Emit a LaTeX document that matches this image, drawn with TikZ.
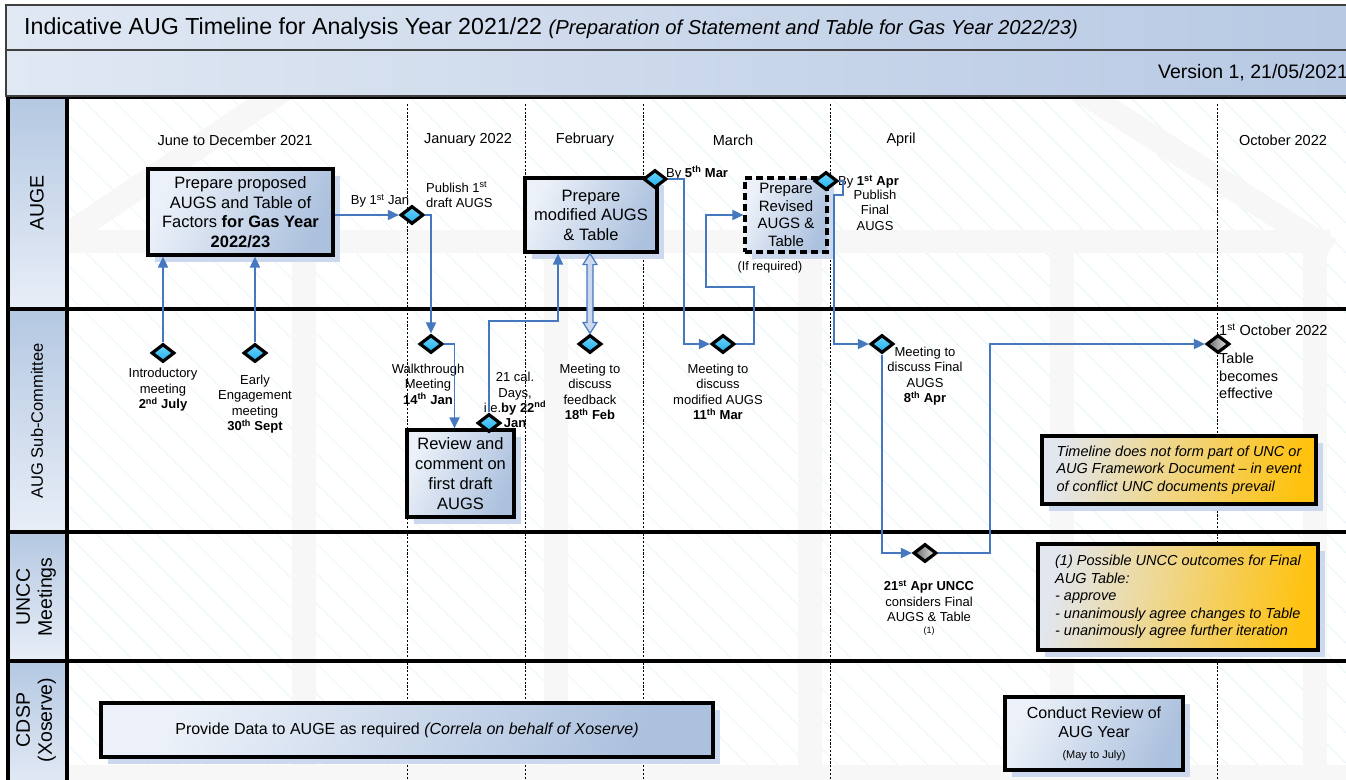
\documentclass[tikz,border=0pt]{standalone}
\usepackage{fontspec}
\setmainfont{Liberation Sans}
\usetikzlibrary{arrows.meta,shapes.geometric,shadows,calc}

\definecolor{flowblue}{RGB}{70,120,192}
\definecolor{boxlight}{RGB}{236,241,249}
\definecolor{boxdark}{RGB}{172,193,222}
\definecolor{shadowblue}{RGB}{203,216,237}
\definecolor{lanedark}{RGB}{180,200,226}
\definecolor{lanelight}{RGB}{232,238,247}
\definecolor{barlight}{RGB}{224,232,243}
\definecolor{bardark}{RGB}{182,200,227}
\definecolor{diamcyan}{RGB}{30,176,238}
\definecolor{diamlight}{RGB}{110,212,250}
\definecolor{noteamber}{RGB}{255,194,14}
\definecolor{notegrey}{RGB}{226,230,238}
\definecolor{hatchcyan}{RGB}{224,243,247}
\definecolor{markgray}{RGB}{247,247,247}

\newcommand{\fsz}[2]{\fontsize{#1}{#2}\selectfont}

\tikzset{
  taskbox/.style={draw, line width=3.2pt, left color=boxlight, right color=boxdark, shading angle=65,
    align=center, inner sep=1pt, font=\fsz{16.5}{19.5},
    drop shadow={shadow xshift=7pt, shadow yshift=-7pt, fill=shadowblue, opacity=1}},
  notebox/.style={taskbox, left color=notegrey, right color=noteamber, shading angle=80,
    align=left, inner xsep=7pt, font=\fsz{14.5}{17.5}\itshape},
  milestone/.style={diamond, draw, line width=3.2pt, inner sep=0pt, minimum width=23pt, minimum height=18pt,
    top color=diamlight, bottom color=diamcyan},
  keydate/.style={milestone, left color=black!60, right color=black!8},
  flow/.style={draw=flowblue, line width=1.8pt, -{Triangle[length=11pt,width=10pt]}},
  hollowflow/.style={draw=flowblue, line width=1.2pt, fill=shadowblue},
  lbl/.style={align=center, inner sep=0pt, font=\fsz{13}{15.5}},
  month/.style={inner sep=0pt, font=\fsz{14.5}{17}},
  lanetitle/.style={rotate=90, align=center, inner sep=0pt, font=\fsz{19.5}{22}},
  lanerule/.style={line width=3.6pt},
  monthrule/.style={dash pattern=on 2.2pt off 1.6pt, line width=0.7pt},
  hatch/.style={hatchcyan, line width=0.7pt}
}

\begin{document}
\begin{tikzpicture}[x=1pt, y=-1pt]
\useasboundingbox (0,0) rectangle (1346,779);
\clip (0,0) rectangle (1346,779);

% lane bodies, hatching and watermark
\fill[white] (0,0) rectangle (1400,800);
\begin{scope}
  \clip (67,97) rectangle (1400,800);
  \foreach \k in {0,...,75} \draw[hatch] (\k*30-760,97) -- ++(720,720);
  \draw[markgray, line width=24pt] (60,240) -- (670,-170) -- (1330,250);
  \fill[markgray] (67,230) rectangle (1330,253);
  \foreach \bx in {292,544,798,1050,1303} \fill[markgray] (\bx,230) rectangle ++(24,600);
  \fill[markgray] (67,765) rectangle (1400,800);
\end{scope}

% month separators
\foreach \mx in {407,525,643,830,1217} \draw[monthrule] (\mx,104) -- (\mx,790);

% lane headers
\draw[lanerule, top color=lanedark, bottom color=lanelight] (8,97) rectangle (67,309);
\draw[lanerule, top color=lanedark, bottom color=lanelight] (8,309) rectangle (67,532);
\draw[lanerule, top color=lanedark, bottom color=lanelight] (8,532) rectangle (67,661);
\draw[lanerule, top color=lanedark, bottom color=lanelight] (8,661) rectangle (67,800);
\foreach \ly in {97,309,532,661} \draw[lanerule] (8,\ly) -- (1400,\ly);
\node[lanetitle] (laneAuge) at (37,203) {AUGE};
\node[lanetitle, font=\fsz{16.5}{19}] (laneSub) at (37,421) {AUG Sub-Committee};
\node[lanetitle] (laneUncc) at (36,597) {UNCC\\Meetings};
\node[lanetitle] (laneCdsp) at (36,720) {CDSP\\(Xoserve)};

% title bars
\draw[draw=black!75, line width=1.2pt, left color=barlight, right color=bardark] (6,5) rectangle (1380,50);
\draw[draw=black!75, line width=1.2pt, left color=barlight, right color=bardark] (6,50) rectangle (1380,96);
\node[anchor=west, inner sep=0pt, font=\fsz{23.2}{26}] (title) at (24,29)
  {Indicative AUG Timeline for Analysis Year 2021/22 {\fsz{20.2}{22}\itshape (Preparation of Statement and Table for Gas Year 2022/23)}};
\node[anchor=west, inner sep=0pt, font=\fsz{19.5}{22}] (version) at (1158,73) {Version 1, 21/05/2021};

% months
\node[month] (mJun) at (235,140) {June to December 2021};
\node[month] (mJan) at (468,140) {January 2022};
\node[month] (mFeb) at (585,140) {February};
\node[month] (mMar) at (733,140) {March};
\node[month] (mApr) at (901,140) {April};
\node[month] (mOct) at (1283,140) {October 2022};

% activity boxes
\node[taskbox, minimum width=185pt, minimum height=86pt] (prep1) at (240.5,212)
  {Prepare proposed\\AUGS and Table of\\Factors \textbf{for Gas Year}\\\textbf{2022/23}};
\node[taskbox, minimum width=132pt, minimum height=74pt] (modbox) at (591,215)
  {Prepare\\modified AUGS\\\& Table};
\node[taskbox, dash pattern=on 7pt off 4pt, minimum width=82pt, minimum height=74pt, font=\fsz{15}{17.7}] (revbox) at (786,215)
  {Prepare\\Revised\\AUGS \&\\Table};
\node[taskbox, minimum width=107pt, minimum height=87pt, font=\fsz{16.5}{20}] (review) at (460.5,473.5)
  {Review and\\comment on\\first draft\\AUGS};
\node[taskbox, minimum width=612pt, minimum height=54pt, font=\fsz{16}{19}] (cdsp) at (407,730)
  {Provide Data to AUGE as required \textit{(Correla on behalf of Xoserve)}};
\node[taskbox, minimum width=178pt, minimum height=73pt, font=\fsz{16}{19.5}] (conduct) at (1094,733.5)
  {Conduct Review of\\AUG Year\\[1pt]{\fsz{11}{13}(May to July)}};

% notes
\node[notebox, minimum width=274pt, minimum height=68pt] (noteA) at (1179,470)
  {Timeline does not form part of UNC or\\AUG Framework Document -- in event\\of conflict UNC documents prevail};
\node[notebox, minimum width=280pt, minimum height=106pt] (noteB) at (1178,597)
  {(1) Possible UNCC outcomes for Final\\AUG Table:\\- approve\\- unanimously agree changes to Table\\- unanimously agree further iteration};

% milestones
\node[milestone] (dJanPub) at (412,215) {};
\node[milestone] (dMarBy) at (655,179) {};
\node[milestone] (dAprBy) at (826,181) {};
\node[milestone] (dIntro) at (163,353) {};
\node[milestone] (dEarly) at (255,353) {};
\node[milestone] (dWalk) at (431,344) {};
\node[milestone] (d22) at (489,423) {};
\node[milestone] (dFeb) at (590,344) {};
\node[milestone] (dMar) at (723,344) {};
\node[milestone] (dApr8) at (882,344) {};
\node[keydate] (dUncc) at (925,553) {};
\node[keydate] (dOct) at (1218,344) {};

% labels
\node[lbl] (lblByJan) at (380,201) {By 1\textsuperscript{st} Jan};
\node[lbl, anchor=west, align=left] (lblPub) at (426,195) {Publish 1\textsuperscript{st}\\draft AUGS};
\node[lbl, anchor=west] (lblByMar) at (666,173) {By \textbf{5\textsuperscript{th} Mar}};
\node[lbl, font=\fsz{12.5}{15}] (lblIfReq) at (770,267) {(If required)};
\node[lbl, anchor=west] (lblByApr) at (838,182) {By \textbf{1\textsuperscript{st} Apr}};
\node[lbl] (lblPubFinal) at (875,210) {Publish\\Final\\AUGS};
\node[lbl] (lblIntro) at (163,390) {Introductory\\meeting\\\textbf{2\textsuperscript{nd} July}};
\node[lbl] (lblEarly) at (255,404) {Early\\Engagement\\meeting\\\textbf{30\textsuperscript{th} Sept}};
\node[lbl] (lblWalk) at (428,384) {Walkthrough\\Meeting\\\textbf{14\textsuperscript{th} Jan}};
\node[lbl, font=\fsz{13}{15.3}] (lbl22) at (515,400) {21 cal.\\Days,\\i.e.\textbf{by 22\textsuperscript{nd}}\\\textbf{Jan}};
\node[lbl] (lblFeb) at (590,392) {Meeting to\\discuss\\feedback\\\textbf{18\textsuperscript{th} Feb}};
\node[lbl] (lblMar) at (718,392) {Meeting to\\discuss\\modified AUGS\\\textbf{11\textsuperscript{th} Mar}};
\node[lbl] (lblApr8) at (925,376) {Meeting to\\discuss Final\\AUGS\\\textbf{8\textsuperscript{th} Apr}};
\node[lbl, anchor=west, font=\fsz{14.5}{17.5}] (lblOctDate) at (1219,330) {1\textsuperscript{st} October 2022};
\node[lbl, anchor=west, align=left, font=\fsz{14.5}{17.5}] (lblOctEff) at (1219,376) {Table\\becomes\\effective};
\node[lbl] (lblUncc) at (929,608) {\textbf{21\textsuperscript{st} Apr UNCC}\\considers Final\\AUGS \& Table\\[-4pt]{\fsz{9}{10}(1)}};

% connectors
\draw[flow] (prep1.east |- dJanPub) -- (dJanPub.west);
\draw[flow] (dJanPub.east) -| (dWalk.north);
\draw[flow] (dIntro.north) -- (dIntro.north |- prep1.south);
\draw[flow] (dEarly.north) -- (dEarly.north |- prep1.south);
\draw[flow] (dWalk.east) -| ($(review.north)+(-6,0)$);
\coordinate (bend22) at (489,321);
\draw[flow] (d22.north) -- (bend22) -| ($(modbox.south)+(-33,0)$);
\coordinate (fbTop) at (dFeb.north |- modbox.south);
\coordinate (fbBot) at (dFeb.north);
\draw[hollowflow] (fbTop) -- ($(fbTop)+(7,11)$) -- ($(fbTop)+(3,11)$) -- ($(fbBot)+(3,-11)$)
  -- ($(fbBot)+(7,-11)$) -- (fbBot) -- ($(fbBot)+(-7,-11)$) -- ($(fbBot)+(-3,-11)$)
  -- ($(fbTop)+(-3,11)$) -- ($(fbTop)+(-7,11)$) -- cycle;
\coordinate (bendMar) at (684,344);
\draw[flow] (dMarBy.east) -| (bendMar) -- (dMar.west);
\coordinate (bendRevA) at (754,287);
\coordinate (bendRevB) at (706,215);
\draw[flow] (dMar.east) -| (bendRevA) -| (bendRevB) -- (revbox.west);
\coordinate (bendAprA) at (843,195);
\coordinate (bendAprB) at (834,344);
\draw[flow] (dAprBy.east) -| (bendAprA) -| (bendAprB) -- (dApr8.west);
\draw[flow] (dApr8.south) |- (dUncc.west);
\coordinate (bendOct) at (990,344);
\draw[flow] (dUncc.east) -| (bendOct) -- (dOct.west);
\end{tikzpicture}
\end{document}
